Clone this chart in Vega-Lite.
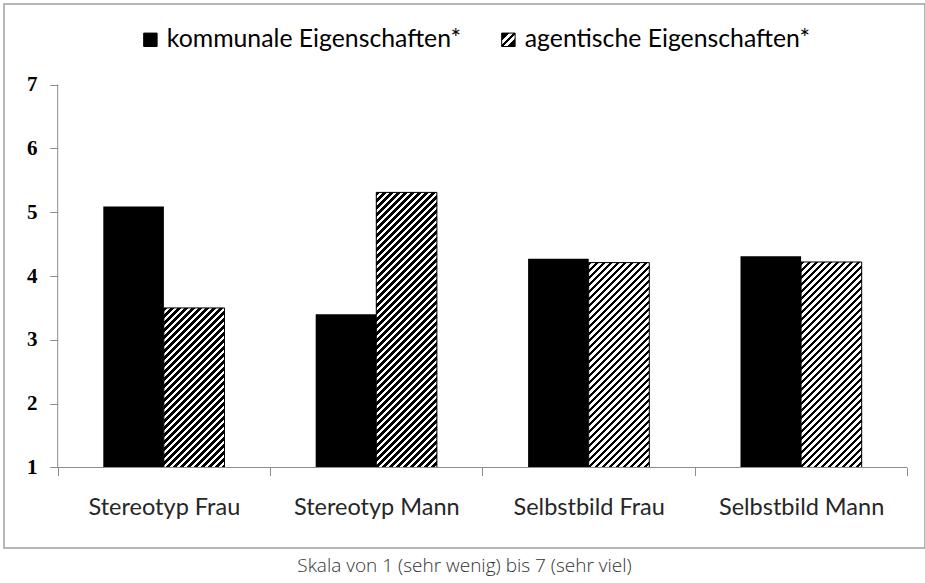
{
  "$schema": "https://vega.github.io/schema/vega-lite/v6.json",
  "width": 921,
  "height": 544,
  "autosize": {"type": "none"},
  "padding": {"left": 4, "top": 4, "right": 0, "bottom": 35},
  "background": "white",
  "config": {"view": {"stroke": "#a0a0a0", "strokeWidth": 1.5}},
  "params": [
    {
      "name": "legendGrad",
      "value": {"gradient": "linear", "x1": 0, "y1": 0, "x2": 1, "y2": 1,
        "stops": [
          {"offset": 0, "color": "#000"}, {"offset": 0.3, "color": "#000"},
          {"offset": 0.3, "color": "#fff"}, {"offset": 0.45, "color": "#fff"},
          {"offset": 0.45, "color": "#000"}, {"offset": 0.55, "color": "#000"},
          {"offset": 0.55, "color": "#fff"}, {"offset": 0.7, "color": "#fff"},
          {"offset": 0.7, "color": "#000"}, {"offset": 1, "color": "#000"}
        ]}
    },
    {
      "name": "hatchStops",
      "value": [
        {"offset":0,"color":"#000"},
        {"offset":0.01,"color":"#000"},{"offset":0.01,"color":"#fff"},
        {"offset":0.02,"color":"#fff"},{"offset":0.02,"color":"#000"},
        {"offset":0.03,"color":"#000"},{"offset":0.03,"color":"#fff"},
        {"offset":0.04,"color":"#fff"},{"offset":0.04,"color":"#000"},
        {"offset":0.05,"color":"#000"},{"offset":0.05,"color":"#fff"},
        {"offset":0.06,"color":"#fff"},{"offset":0.06,"color":"#000"},
        {"offset":0.07,"color":"#000"},{"offset":0.07,"color":"#fff"},
        {"offset":0.08,"color":"#fff"},{"offset":0.08,"color":"#000"},
        {"offset":0.09,"color":"#000"},{"offset":0.09,"color":"#fff"},
        {"offset":0.1,"color":"#fff"},{"offset":0.1,"color":"#000"},
        {"offset":0.11,"color":"#000"},{"offset":0.11,"color":"#fff"},
        {"offset":0.12,"color":"#fff"},{"offset":0.12,"color":"#000"},
        {"offset":0.13,"color":"#000"},{"offset":0.13,"color":"#fff"},
        {"offset":0.14,"color":"#fff"},{"offset":0.14,"color":"#000"},
        {"offset":0.15,"color":"#000"},{"offset":0.15,"color":"#fff"},
        {"offset":0.16,"color":"#fff"},{"offset":0.16,"color":"#000"},
        {"offset":0.17,"color":"#000"},{"offset":0.17,"color":"#fff"},
        {"offset":0.18,"color":"#fff"},{"offset":0.18,"color":"#000"},
        {"offset":0.19,"color":"#000"},{"offset":0.19,"color":"#fff"},
        {"offset":0.2,"color":"#fff"},{"offset":0.2,"color":"#000"},
        {"offset":0.21,"color":"#000"},{"offset":0.21,"color":"#fff"},
        {"offset":0.22,"color":"#fff"},{"offset":0.22,"color":"#000"},
        {"offset":0.23,"color":"#000"},{"offset":0.23,"color":"#fff"},
        {"offset":0.24,"color":"#fff"},{"offset":0.24,"color":"#000"},
        {"offset":0.25,"color":"#000"},{"offset":0.25,"color":"#fff"},
        {"offset":0.26,"color":"#fff"},{"offset":0.26,"color":"#000"},
        {"offset":0.27,"color":"#000"},{"offset":0.27,"color":"#fff"},
        {"offset":0.28,"color":"#fff"},{"offset":0.28,"color":"#000"},
        {"offset":0.29,"color":"#000"},{"offset":0.29,"color":"#fff"},
        {"offset":0.3,"color":"#fff"},{"offset":0.3,"color":"#000"},
        {"offset":0.31,"color":"#000"},{"offset":0.31,"color":"#fff"},
        {"offset":0.32,"color":"#fff"},{"offset":0.32,"color":"#000"},
        {"offset":0.33,"color":"#000"},{"offset":0.33,"color":"#fff"},
        {"offset":0.34,"color":"#fff"},{"offset":0.34,"color":"#000"},
        {"offset":0.35,"color":"#000"},{"offset":0.35,"color":"#fff"},
        {"offset":0.36,"color":"#fff"},{"offset":0.36,"color":"#000"},
        {"offset":0.37,"color":"#000"},{"offset":0.37,"color":"#fff"},
        {"offset":0.38,"color":"#fff"},{"offset":0.38,"color":"#000"},
        {"offset":0.39,"color":"#000"},{"offset":0.39,"color":"#fff"},
        {"offset":0.4,"color":"#fff"},{"offset":0.4,"color":"#000"},
        {"offset":0.41,"color":"#000"},{"offset":0.41,"color":"#fff"},
        {"offset":0.42,"color":"#fff"},{"offset":0.42,"color":"#000"},
        {"offset":0.43,"color":"#000"},{"offset":0.43,"color":"#fff"},
        {"offset":0.44,"color":"#fff"},{"offset":0.44,"color":"#000"},
        {"offset":0.45,"color":"#000"},{"offset":0.45,"color":"#fff"},
        {"offset":0.46,"color":"#fff"},{"offset":0.46,"color":"#000"},
        {"offset":0.47,"color":"#000"},{"offset":0.47,"color":"#fff"},
        {"offset":0.48,"color":"#fff"},{"offset":0.48,"color":"#000"},
        {"offset":0.49,"color":"#000"},{"offset":0.49,"color":"#fff"},
        {"offset":0.5,"color":"#fff"},{"offset":0.5,"color":"#000"},
        {"offset":0.51,"color":"#000"},{"offset":0.51,"color":"#fff"},
        {"offset":0.52,"color":"#fff"},{"offset":0.52,"color":"#000"},
        {"offset":0.53,"color":"#000"},{"offset":0.53,"color":"#fff"},
        {"offset":0.54,"color":"#fff"},{"offset":0.54,"color":"#000"},
        {"offset":0.55,"color":"#000"},{"offset":0.55,"color":"#fff"},
        {"offset":0.56,"color":"#fff"},{"offset":0.56,"color":"#000"},
        {"offset":0.57,"color":"#000"},{"offset":0.57,"color":"#fff"},
        {"offset":0.58,"color":"#fff"},{"offset":0.58,"color":"#000"},
        {"offset":0.59,"color":"#000"},{"offset":0.59,"color":"#fff"},
        {"offset":0.6,"color":"#fff"},{"offset":0.6,"color":"#000"},
        {"offset":0.61,"color":"#000"},{"offset":0.61,"color":"#fff"},
        {"offset":0.62,"color":"#fff"},{"offset":0.62,"color":"#000"},
        {"offset":0.63,"color":"#000"},{"offset":0.63,"color":"#fff"},
        {"offset":0.64,"color":"#fff"},{"offset":0.64,"color":"#000"},
        {"offset":0.65,"color":"#000"},{"offset":0.65,"color":"#fff"},
        {"offset":0.66,"color":"#fff"},{"offset":0.66,"color":"#000"},
        {"offset":0.67,"color":"#000"},{"offset":0.67,"color":"#fff"},
        {"offset":0.68,"color":"#fff"},{"offset":0.68,"color":"#000"},
        {"offset":0.69,"color":"#000"},{"offset":0.69,"color":"#fff"},
        {"offset":0.7,"color":"#fff"},{"offset":0.7,"color":"#000"},
        {"offset":0.71,"color":"#000"},{"offset":0.71,"color":"#fff"},
        {"offset":0.72,"color":"#fff"},{"offset":0.72,"color":"#000"},
        {"offset":0.73,"color":"#000"},{"offset":0.73,"color":"#fff"},
        {"offset":0.74,"color":"#fff"},{"offset":0.74,"color":"#000"},
        {"offset":0.75,"color":"#000"},{"offset":0.75,"color":"#fff"},
        {"offset":0.76,"color":"#fff"},{"offset":0.76,"color":"#000"},
        {"offset":0.77,"color":"#000"},{"offset":0.77,"color":"#fff"},
        {"offset":0.78,"color":"#fff"},{"offset":0.78,"color":"#000"},
        {"offset":0.79,"color":"#000"},{"offset":0.79,"color":"#fff"},
        {"offset":0.8,"color":"#fff"},{"offset":0.8,"color":"#000"},
        {"offset":0.81,"color":"#000"},{"offset":0.81,"color":"#fff"},
        {"offset":0.82,"color":"#fff"},{"offset":0.82,"color":"#000"},
        {"offset":0.83,"color":"#000"},{"offset":0.83,"color":"#fff"},
        {"offset":0.84,"color":"#fff"},{"offset":0.84,"color":"#000"},
        {"offset":0.85,"color":"#000"},{"offset":0.85,"color":"#fff"},
        {"offset":0.86,"color":"#fff"},{"offset":0.86,"color":"#000"},
        {"offset":0.87,"color":"#000"},{"offset":0.87,"color":"#fff"},
        {"offset":0.88,"color":"#fff"},{"offset":0.88,"color":"#000"},
        {"offset":0.89,"color":"#000"},{"offset":0.89,"color":"#fff"},
        {"offset":0.9,"color":"#fff"},{"offset":0.9,"color":"#000"},
        {"offset":0.91,"color":"#000"},{"offset":0.91,"color":"#fff"},
        {"offset":0.92,"color":"#fff"},{"offset":0.92,"color":"#000"},
        {"offset":0.93,"color":"#000"},{"offset":0.93,"color":"#fff"},
        {"offset":0.94,"color":"#fff"},{"offset":0.94,"color":"#000"},
        {"offset":0.95,"color":"#000"},{"offset":0.95,"color":"#fff"},
        {"offset":0.96,"color":"#fff"},{"offset":0.96,"color":"#000"},
        {"offset":0.97,"color":"#000"},{"offset":0.97,"color":"#fff"},
        {"offset":0.98,"color":"#fff"},{"offset":0.98,"color":"#000"},
        {"offset":0.99,"color":"#000"},{"offset":0.99,"color":"#fff"},
        {"offset":1,"color":"#fff"}
      ]
    }
  ],
  "title": {
    "text": "Skala von 1 (sehr wenig) bis 7 (sehr viel)",
    "orient": "bottom",
    "anchor": "middle",
    "baseline": "alphabetic",
    "offset": 24,
    "font": "Open Sans",
    "fontSize": 19,
    "fontWeight": 300,
    "color": "#333333"
  },
  "data": {
    "values": [
      {"cat": "Stereotyp Frau", "series": "kommunale Eigenschaften*", "value": 5.09},
      {"cat": "Stereotyp Frau", "series": "agentische Eigenschaften*", "value": 3.50},
      {"cat": "Stereotyp Mann", "series": "kommunale Eigenschaften*", "value": 3.40},
      {"cat": "Stereotyp Mann", "series": "agentische Eigenschaften*", "value": 5.31},
      {"cat": "Selbstbild Frau", "series": "kommunale Eigenschaften*", "value": 4.27},
      {"cat": "Selbstbild Frau", "series": "agentische Eigenschaften*", "value": 4.21},
      {"cat": "Selbstbild Mann", "series": "kommunale Eigenschaften*", "value": 4.31},
      {"cat": "Selbstbild Mann", "series": "agentische Eigenschaften*", "value": 4.22}
    ]
  },
  "layer": [
    {
      "mark": {"type": "bar"},
      "encoding": {
        "x": {
          "field": "cat", "type": "nominal", "sort": null, "title": null,
          "scale": {"paddingInner": 0, "paddingOuter": 0.1681, "align": 0.752},
          "axis": {
            "title": null, "orient": "bottom", "offset": -80.5, "domain": false,
            "tickBand": "extent", "tickSize": 8, "tickColor": "#8c8c8c", "tickWidth": 1,
            "labelFont": "Lato", "labelFontSize": 23.5, "labelColor": "#262626",
            "labelAngle": 0, "labelBaseline": "alphabetic", "labelPadding": 39, "labelLimit": 400,
            "grid": false
          }
        },
        "xOffset": {
          "field": "series", "type": "nominal",
          "sort": ["kommunale Eigenschaften*", "agentische Eigenschaften*"],
          "scale": {"paddingInner": 0, "paddingOuter": 0.7525}
        },
        "y": {
          "field": "value", "type": "quantitative", "title": null,
          "scale": {"domain": [-0.2612, 8.2616], "nice": false, "zero": false},
          "axis": {
            "title": null, "offset": -53.7, "domain": false, "grid": false,
            "values": [1, 2, 3, 4, 5, 6, 7], "format": "d",
            "tickSize": 8, "tickColor": "#8c8c8c", "tickWidth": 1,
            "labelFont": "Liberation Serif", "labelFontWeight": "bold", "labelFontSize": 21,
            "labelColor": "#000000", "labelPadding": 12.7
          }
        },
        "y2": {"datum": 1},
        "fill": {
          "field": "series", "type": "nominal",
          "scale": {
            "domain": ["kommunale Eigenschaften*", "agentische Eigenschaften*"],
            "range": ["#000000", {"expr": "legendGrad"}]
          },
          "legend": {
            "orient": "none", "legendX": 134, "legendY": 23, "direction": "horizontal",
            "title": null, "symbolType": "square", "symbolSize": 180,
            "symbolStrokeColor": "#000000", "symbolStrokeWidth": 1,
            "labelFont": "Lato", "labelFontSize": 24.8, "labelColor": "#000000",
            "labelOffset": 4, "columnPadding": 34, "labelLimit": 400
          }
        }
      }
    },
    {
      "transform": [{"filter": "datum.series == 'agentische Eigenschaften*'"}],
      "mark": {"type": "bar", "stroke": "#000000", "strokeWidth": 1},
      "encoding": {
        "x": {"field": "cat", "type": "nominal", "sort": null, "title": null},
        "xOffset": {
          "field": "series", "type": "nominal",
          "sort": ["kommunale Eigenschaften*", "agentische Eigenschaften*"]
        },
        "y": {"field": "value", "type": "quantitative", "title": null},
        "y2": {"datum": 1},
        "fill": {
          "value": {
            "expr": "{gradient: 'linear', x1: 0, y1: 0, x2: 350 * bandwidth('xOffset') / (pow(bandwidth('xOffset'), 2) + pow(scale('y', 1) - scale('y', datum.value), 2)), y2: 350 * (scale('y', 1) - scale('y', datum.value)) / (pow(bandwidth('xOffset'), 2) + pow(scale('y', 1) - scale('y', datum.value), 2)), stops: hatchStops}"
          }
        }
      }
    },
    {
      "transform": [{"filter": "datum.cat == 'Stereotyp Frau' && datum.series == 'kommunale Eigenschaften*'"}],
      "mark": {"type": "rule", "color": "#8c8c8c", "strokeWidth": 1},
      "encoding": {
        "x": {"datum": "Stereotyp Frau", "type": "nominal", "bandPosition": 0, "title": null},
        "y": {"datum": 1, "type": "quantitative", "title": null},
        "y2": {"datum": 7}
      }
    },
    {
      "transform": [{"filter": "datum.cat == 'Stereotyp Frau' && datum.series == 'kommunale Eigenschaften*'"}],
      "mark": {"type": "rule", "color": "#8c8c8c", "strokeWidth": 1},
      "encoding": {
        "x": {"datum": "Stereotyp Frau", "type": "nominal", "bandPosition": 0, "title": null},
        "x2": {"datum": "Selbstbild Mann", "bandPosition": 1},
        "y": {"datum": 1, "type": "quantitative", "title": null}
      }
    }
  ]
}
